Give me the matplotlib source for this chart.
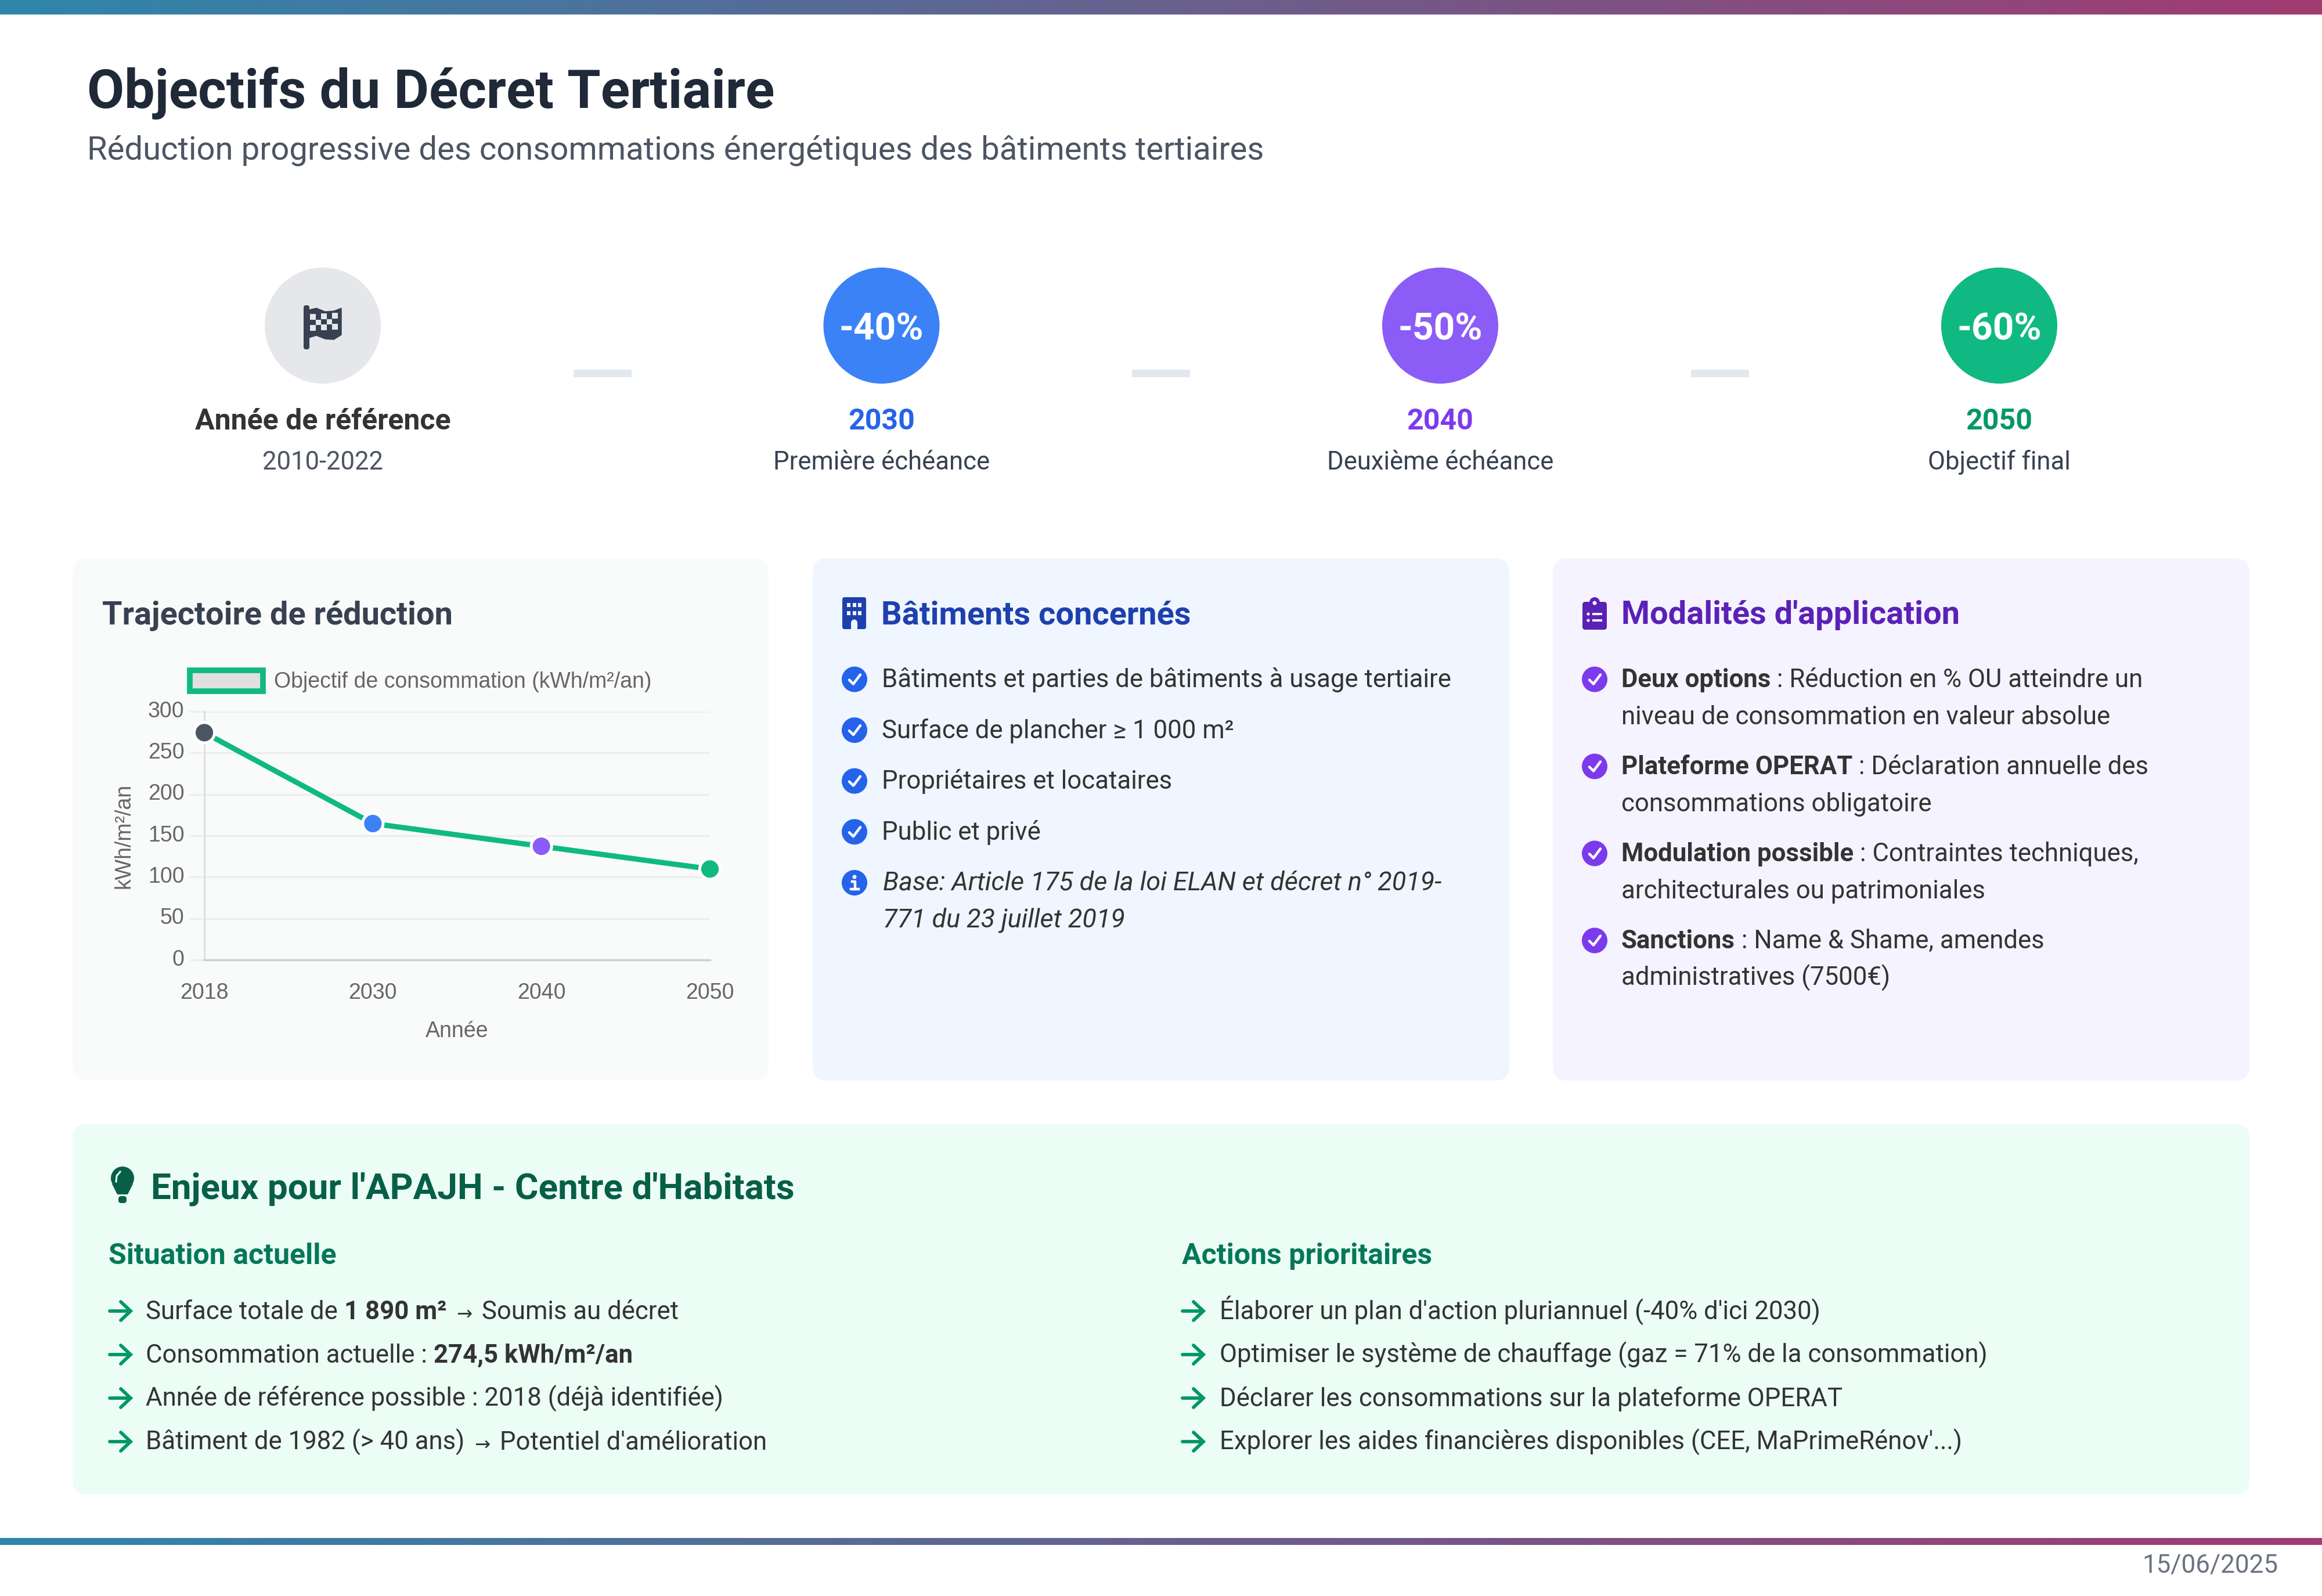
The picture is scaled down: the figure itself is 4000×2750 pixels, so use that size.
import matplotlib
matplotlib.use("Agg")
import numpy as np
import matplotlib.pyplot as plt
from matplotlib.patches import FancyBboxPatch, Circle, Rectangle, Polygon, Patch
from matplotlib.colors import LinearSegmentedColormap
from matplotlib.transforms import ScaledTranslation

plt.rcParams['font.family'] = ['Roboto', 'DejaVu Sans']

# chart data
years = ["2018", "2030", "2040", "2050"]
consumption = [274.5, 164.7, 137.25, 109.8]
point_colors = ["#4b5563", "#3b82f6", "#8b5cf6", "#10b981"]
y_ticks = [0, 50, 100, 150, 200, 250, 300]
legend_label = "Objectif de consommation (kWh/m²/an)"

# timeline
step_top = ["", "-40%", "-50%", "-60%"]
step_title = ["Année de référence", "2030", "2040", "2050"]
step_sub = ["2010-2022", "Première échéance", "Deuxième échéance", "Objectif final"]
step_fill = ["#e5e7eb", "#3b82f6", "#8b5cf6", "#10b981"]
step_color = ["#333333", "#2563eb", "#7c3aed", "#059669"]

# text blocks, each run is (text, kind)
batiments = ["Bâtiments et parties de bâtiments à usage tertiaire",
             "Surface de plancher ≥ 1 000 m²",
             "Propriétaires et locataires",
             "Public et privé"]
base_note = ["Base: Article 175 de la loi ELAN et décret n° 2019-", "771 du 23 juillet 2019"]
modalites = [("Deux options", " : Réduction en % OU atteindre un", "niveau de consommation en valeur absolue"),
             ("Plateforme OPERAT", " : Déclaration annuelle des", "consommations obligatoire"),
             ("Modulation possible", " : Contraintes techniques,", "architecturales ou patrimoniales"),
             ("Sanctions", " : Name & Shame, amendes", "administratives (7500€)")]
situation = [[("Surface totale de ", "normal"), ("1 890 m²", "bold"), (" ", "normal"), ("→", "small"), (" Soumis au décret", "normal")],
             [("Consommation actuelle : ", "normal"), ("274,5 kWh/m²/an", "bold")],
             [("Année de référence possible : 2018 (déjà identifiée)", "normal")],
             [("Bâtiment de 1982 (> 40 ans) ", "normal"), ("→", "small"), (" Potentiel d'amélioration", "normal")]]
actions = ["Élaborer un plan d'action pluriannuel (-40% d'ici 2030)",
           "Optimiser le système de chauffage (gaz = 71% de la consommation)",
           "Déclarer les consommations sur la plateforme OPERAT",
           "Explorer les aides financières disponibles (CEE, MaPrimeRénov'...)"]

W, H = 4000, 2750
BODY = 43.75
fig = plt.figure(figsize=(W / 100, H / 100), dpi=100, facecolor="white")
bg = fig.add_axes([0, 0, 1, 1])
bg.set_xlim(0, W)
bg.set_ylim(H, 0)
bg.axis("off")


def txt(x, y, s, px, color="#333333", bold=False, italic=False, ha="left"):
    # px is the font size in output pixels, y is the baseline
    return bg.text(x, y, s, fontsize=px * 0.72, color=color, ha=ha, va="baseline",
                   fontweight="bold" if bold else "normal",
                   fontstyle="italic" if italic else "normal")


def runs(x, y, parts, px, color="#333333"):
    rend = fig.canvas.get_renderer()
    for s, kind in parts:
        small = kind == "small"
        size = px * 0.74 if small else px
        if small:
            x += 6  # the arrow glyph has more room around it
        t = txt(x, y, s, size, color, kind == "bold")
        w, _, _ = rend.get_text_width_height_descent(s, t.get_fontproperties(), False)
        x += w + (6 if small else 0)


def card(x0, y0, x1, y1, color, r=25):
    bg.add_patch(FancyBboxPatch((x0, y0), x1 - x0, y1 - y0,
                                boxstyle="round,pad=0,rounding_size=%d" % r,
                                fc=color, ec="none", zorder=0))


def gradient_bar(y0, y1):
    cmap = LinearSegmentedColormap.from_list("bar", ["#2e86ab", "#a23b72"])
    bg.imshow(np.linspace(0, 1, 512)[None, :], cmap=cmap, aspect="auto",
              extent=(0, W, y1, y0), zorder=1)
    bg.set_xlim(0, W)
    bg.set_ylim(H, 0)


def check_dot(cx, cy, color):
    bg.add_patch(Circle((cx, cy), 22, fc=color, ec="none", zorder=2))
    bg.plot([cx - 9, cx - 2, cx + 10], [cy + 1, cy + 8, cy - 8], color="white", lw=3.2,
            solid_capstyle="round", solid_joinstyle="round", zorder=3)


def info_dot(cx, cy, color):
    bg.add_patch(Circle((cx, cy), 22, fc=color, ec="none", zorder=2))
    bg.add_patch(Circle((cx, cy - 10), 3.5, fc="white", ec="none", zorder=3))
    bg.plot([cx - 4, cx + 1, cx + 1], [cy - 2, cy - 2, cy + 11], color="white", lw=3.2, zorder=3)
    bg.plot([cx - 6, cx + 7], [cy + 11, cy + 11], color="white", lw=3.2, zorder=3)


def arrow(x0, cy, color="#059669"):
    bg.plot([x0 + 1, x0 + 36], [cy, cy], color=color, lw=4.2, solid_capstyle="round", zorder=2)
    bg.plot([x0 + 20, x0 + 37, x0 + 20], [cy - 16, cy, cy + 16], color=color, lw=4.2,
            solid_capstyle="round", solid_joinstyle="miter", zorder=2)


def flag_icon():
    c = "#374151"
    bg.add_patch(FancyBboxPatch((524, 527), 8, 74, boxstyle="round,pad=1,rounding_size=4",
                                fc=c, ec="none", zorder=2))
    top = [(532, 534), (545, 531), (560, 537), (575, 536), (588, 531)]
    bot = [(588, 577), (575, 585), (560, 584), (545, 578), (532, 582)]
    bg.add_patch(Polygon(top + bot, closed=True, fc=c, ec=c, lw=1, joinstyle="round", zorder=2))
    # light squares of the checker
    sq = 9.5
    for row in range(3):
        for col in range(3):
            for shift in (0, 1):
                x = 533 + col * 2 * sq + shift * sq
                y = 541 + row * 2 * sq + shift * sq - col * 1
                if x + sq < 581 and y + sq < 578:
                    bg.add_patch(Rectangle((x + 1, y), sq, sq, fc="#e5e7eb", ec="none", zorder=3))


def building_icon():
    c = "#1e40af"
    bg.add_patch(FancyBboxPatch((1451, 1029), 41, 55, boxstyle="round,pad=0,rounding_size=4",
                                fc=c, ec="none", zorder=2))
    for y in (1042, 1056):
        for x in (1462, 1471.5, 1481):
            bg.add_patch(Rectangle((x - 3, y - 3.5), 6, 7, fc="#eff6ff", ec="none", zorder=3))
    bg.add_patch(Rectangle((1466, 1073), 11, 12, fc="#eff6ff", ec="none", zorder=3))
    bg.add_patch(Circle((1471.5, 1073), 5.5, fc="#eff6ff", ec="none", zorder=3))


def clipboard_icon():
    c = "#5b21b6"
    bg.add_patch(FancyBboxPatch((2726, 1037), 42, 48, boxstyle="round,pad=0,rounding_size=5",
                                fc=c, ec="none", zorder=2))
    bg.add_patch(Circle((2747, 1038), 9, fc=c, ec="none", zorder=2))
    bg.add_patch(Circle((2747, 1039), 3.5, fc="#f5f3ff", ec="none", zorder=3))
    for y in (1058, 1069):
        bg.add_patch(Circle((2736, y), 2.6, fc="#f5f3ff", ec="none", zorder=3))
        bg.add_patch(Rectangle((2743, y - 2), 17, 4, fc="#f5f3ff", ec="none", zorder=3))


def bulb_icon():
    c = "#065f46"
    bg.add_patch(Circle((211, 2030), 20, fc=c, ec="none", zorder=2))
    bg.add_patch(Polygon([(193, 2040), (229, 2040), (220, 2058), (202, 2058)], fc=c, ec="none", zorder=2))
    bg.add_patch(FancyBboxPatch((204, 2061), 14, 12, boxstyle="round,pad=0,rounding_size=5",
                                fc=c, ec="none", zorder=2))
    bg.plot([200, 201, 207], [2036, 2026, 2019], color="#ecfdf5", lw=2.2, zorder=3)


# header and bars
gradient_bar(0, 25)
gradient_bar(2650, 2662)
txt(150, 186, "Objectifs du Décret Tertiaire", 93.2, "#1f2937", bold=True)
txt(150, 274, "Réduction progressive des consommations énergétiques des bâtiments tertiaires", 56.3, "#4b5563")
txt(3925, 2709, "15/06/2025", 44, "#6b7280", ha="right")

# timeline
step_x = [556, 1518.5, 2481, 3444]
for i, cx in enumerate(step_x):
    bg.add_patch(Circle((cx, 561), 100, fc=step_fill[i], ec="none", zorder=1))
    if step_top[i]:
        bg.text(cx, 585, step_top[i], fontsize=64 * 0.72, color="white", ha="center",
                va="baseline", fontweight="bold", zorder=3)
    txt(cx, 740, step_title[i], 50, step_color[i], bold=True, ha="center")
    txt(cx, 809, step_sub[i], 43.7, "#4b5563" if i == 0 else "#374151", ha="center")
flag_icon()
for x in (988, 1950, 2913):
    bg.add_patch(Rectangle((x, 637), 100, 12.5, fc="#e2e8f0", ec="none", zorder=1))

# cards
card(125, 962, 1324, 1862, "#f9fbfa")
card(1400, 962, 2600, 1862, "#eff6ff")
card(2675, 962, 3875, 1862, "#f5f3ff")
card(125, 1937, 3875, 2575, "#ecfdf5")

txt(176, 1075, "Trajectoire de réduction", 56, "#374151", bold=True)
building_icon()
txt(1518, 1075, "Bâtiments concernés", 56, "#1e40af", bold=True)
clipboard_icon()
txt(2793, 1075, "Modalités d'application", 56, "#5b21b6", bold=True)

# line chart
ax = fig.add_axes([352 / W, 1 - 1654 / H, (1223 - 352) / W, (1654 - 1226) / H])
ax.patch.set_alpha(0)
xs = np.arange(len(years))
ax.plot(xs, consumption, color="#10b981", lw=6.6, zorder=3, clip_on=False)
ax.scatter(xs, consumption, s=640, c=point_colors, edgecolors="white", linewidths=3.6,
           zorder=4, clip_on=False)
ax.set_xlim(0, 3)
ax.set_ylim(0, 300)
ax.set_xticks(xs, years)
ax.set_yticks(y_ticks)
grid_col = "#ededed"
ax.grid(axis="y", color=grid_col, lw=2.2)
ax.set_axisbelow(True)
ax.tick_params(axis="y", length=19, width=2.2, color=grid_col, pad=6, labelsize=27, labelcolor="#666666")
ax.tick_params(axis="x", length=0, pad=28, labelsize=27, labelcolor="#666666")
for lab in ax.get_xticklabels() + ax.get_yticklabels():
    lab.set_fontfamily("Liberation Sans")
# tick labels sit a little above their grid line
for lab in ax.get_yticklabels():
    lab.set_transform(lab.get_transform() + ScaledTranslation(0, 3 / 72, fig.dpi_scale_trans))
for side in ("top", "right"):
    ax.spines[side].set_visible(False)
ax.spines["left"].set_color("#dddddd")
ax.spines["left"].set_linewidth(2)
ax.spines["bottom"].set_color("#cfcfcf")
ax.spines["bottom"].set_linewidth(2.5)
ax.set_xlabel("Année", fontsize=27, color="#666666", family="Liberation Sans", labelpad=22)
ax.set_ylabel("kWh/m²/an", fontsize=27, color="#666666", family="Liberation Sans", labelpad=17)
leg = ax.legend(handles=[Patch(fc="#e0e0e0", ec="#10b981", lw=7, label=legend_label)],
                loc="center left", bbox_to_anchor=(327 / W, 1 - 1174 / H),
                bbox_transform=fig.transFigure, frameon=False, handlelength=3.35, handleheight=1.1,
                handletextpad=0.53, borderpad=0, borderaxespad=0,
                prop={"family": "Liberation Sans", "size": 27}, labelcolor="#666666")

# Bâtiments concernés
for i, s in enumerate(batiments):
    check_dot(1472, 1170.5 + i * 87.6, "#2563eb")
    txt(1519, 1184 + i * 87.6, s, BODY)
info_dot(1472, 1521, "#2563eb")
txt(1521, 1533, base_note[0], 45, italic=True)
txt(1521, 1597, base_note[1], 45, italic=True)

# Modalités d'application
for i, (head, rest, second) in enumerate(modalites):
    y = 1184 + i * 150
    check_dot(2747, y - 13.5, "#7c3aed")
    runs(2793, y, [(head, "bold"), (rest, "normal")], BODY)
    txt(2793, y + 64, second, BODY)

# Enjeux
bulb_icon()
txt(260, 2065, "Enjeux pour l'APAJH - Centre d'Habitats", 62, "#065f46", bold=True)
txt(187, 2178, "Situation actuelle", 50, "#047857", bold=True)
txt(2036, 2178, "Actions prioritaires", 50, "#047857", bold=True)
for i in range(4):
    y = 2273 + i * 75
    arrow(188, y - 14)
    runs(251, y, situation[i], BODY)
    arrow(2036, y - 14)
    txt(2101, y, actions[i], BODY)

fig.savefig("out.png", dpi=100, facecolor="white")
